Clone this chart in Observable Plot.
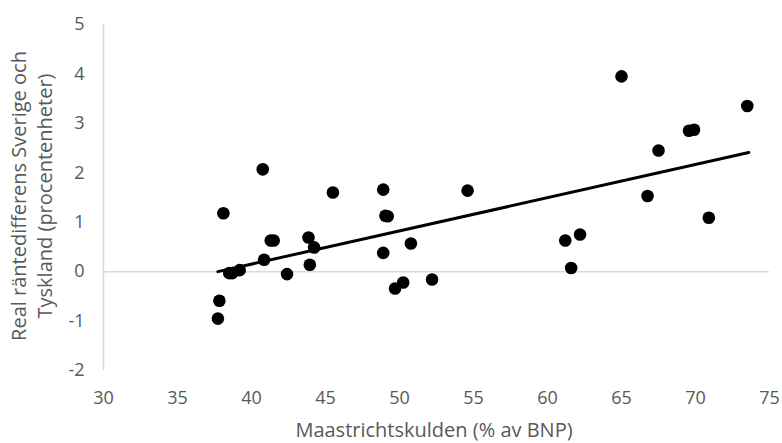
<!DOCTYPE html>
<html>
<head>
<meta charset="utf-8">
<script src="https://cdn.jsdelivr.net/npm/d3@7"></script>
<script src="https://cdn.jsdelivr.net/npm/@observablehq/plot@0.6"></script>
<style>
  html, body { margin: 0; padding: 0; background: #fff; }
  #chart { width: 782px; height: 443px; }
</style>
</head>
<body>
<div id="chart"></div>
<script>
// Maastrichtskulden (% av BNP)
const debt = [37.73, 37.83, 38.1, 38.5, 38.7, 39.2, 40.76, 40.85, 41.3, 41.5, 42.4, 43.85, 43.94, 44.23,
  45.5, 48.9, 48.9, 49.05, 49.2, 49.7, 50.25, 50.77, 52.2, 54.6, 61.2, 61.6, 62.2, 65.0, 66.76, 67.5,
  69.56, 69.9, 70.9, 73.5];
// Real räntedifferens Sverige och Tyskland (procentenheter)
const spread = [-0.95, -0.59, 1.18, -0.03, -0.03, 0.03, 2.07, 0.24, 0.63, 0.63, -0.05, 0.69, 0.14, 0.49,
  1.60, 1.66, 0.38, 1.13, 1.12, -0.34, -0.22, 0.57, -0.16, 1.64, 0.63, 0.075, 0.75, 3.95, 1.53, 2.45,
  2.85, 2.87, 1.09, 3.35];
// Trend line endpoints
const trendX = [37.73, 73.6];
const trendY = [0.0, 2.41];

const xTicks = [30, 35, 40, 45, 50, 55, 60, 65, 70, 75];
const yTicks = [-2, -1, 0, 1, 2, 3, 4, 5];

const points = debt.map((d, i) => ({x: d, y: spread[i]}));
const trend = trendX.map((d, i) => ({x: d, y: trendY[i]}));

const gray = "#595959";
const lineGray = "#d9d9d9";

const svg = Plot.plot({
  width: 782,
  height: 443,
  marginLeft: 103,
  marginRight: 13,
  marginTop: 24,
  marginBottom: 73,
  style: {fontFamily: "'Open Sans', sans-serif", fontSize: "18px", color: gray, background: "#fff"},
  x: {domain: [30, 75]},
  y: {domain: [-2, 5]},
  marks: [
    Plot.axisX(xTicks, {tickSize: 0, tickPadding: 21, label: null, fill: gray, fontSize: 18, tickFormat: d => String(d)}),
    Plot.axisY(yTicks, {tickSize: 0, tickPadding: 19, label: null, fill: gray, fontSize: 18, tickFormat: d => String(d)}),
    Plot.ruleY([0], {stroke: lineGray, strokeWidth: 1.5}),
    Plot.ruleX([30], {y1: -2, y2: 5, stroke: lineGray, strokeWidth: 1.5}),
    Plot.line(trend, {x: "x", y: "y", stroke: "#000", strokeWidth: 3}),
    Plot.dot(points, {x: "x", y: "y", r: 6.3, fill: "#000", stroke: "none"})
  ]
});

const s = d3.select(svg);
s.append("text")
  .attr("x", 434).attr("y", 437)
  .attr("text-anchor", "middle")
  .attr("fill", gray)
  .style("font-family", "'Open Sans', sans-serif")
  .style("font-size", "20px")
  .text("Maastrichtskulden (% av BNP)");

const yl = s.append("text")
  .attr("transform", "translate(0,196) rotate(-90)")
  .attr("text-anchor", "middle")
  .attr("fill", gray)
  .style("font-family", "'Open Sans', sans-serif")
  .style("font-size", "20px");
yl.append("tspan").attr("x", 0).attr("y", 26).text("Real räntedifferens Sverige och");
yl.append("tspan").attr("x", 0).attr("y", 52).text("Tyskland (procentenheter)");

document.getElementById("chart").appendChild(svg);
</script>
</body>
</html>
